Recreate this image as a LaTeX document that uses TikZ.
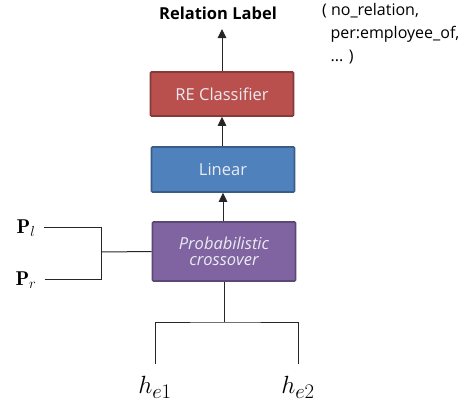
\documentclass[tikz,border=0pt]{standalone}
\usepackage{amsmath,amssymb}
\usepackage{fontspec}
\setsansfont{Open Sans}
\usetikzlibrary{arrows.meta}
\definecolor{reclass}{RGB}{185, 80, 78}
\definecolor{linear}{RGB}{79, 129, 189}
\definecolor{cross}{RGB}{128, 100, 162}
\definecolor{textobox}{RGB}{235, 235, 240}

\begin{document}
\begin{tikzpicture}[x=1pt, y=-1pt,
					% caixas coloridas
					bloco/.style={draw=#1!72!black, fill=#1, line width=1.6pt,
						rounded corners=1pt, minimum width=143pt,
						text=textobox, font=\sffamily\fontsize{16.5}{18}\selectfont},
					liga/.style={line width=1pt, black!85},
					seta/.style={liga, -{Triangle[length=9pt, width=8.5pt]}},
					entrada/.style={inner sep=2pt, font=\fontsize{20}{22}\selectfont},
					saida/.style={anchor=north, inner sep=12pt, font=\fontsize{28}{30}\selectfont},
					]
\useasboundingbox (0,0) rectangle (476,416);
% blocos
\node[bloco=reclass, minimum height=44pt] (re) at (222,94) {RE Classifier};
\node[bloco=linear, minimum height=45pt] (lin) at (223,169.5) {Linear};
\node[bloco=cross, minimum height=59pt, align=center] (cross) at (224,251.5)
	{\itshape Probabilistic\\[-2pt] \itshape crossover};
% rotulos
\node[font=\sffamily\bfseries\fontsize{16.5}{18}\selectfont] (rel) at (218,13) {Relation Label};
\node[anchor=north west, align=left, inner sep=0pt,
	font=\sffamily\fontsize{16}{23}\selectfont] (classes) at (322,3)
	{( no\_relation,\\ \ \ per:employee\_of,\\ \ \ ... )};
\node[entrada] (pl) at (26,228) {$\mathbf{P}_l$};
\node[entrada] (pr) at (26,280) {$\mathbf{P}_r$};
\node[saida] (he1) at (155,364) {$h_{e1}$};
\node[saida] (he2) at (298,364) {$h_{e2}$};
% juncoes
\coordinate (jp) at (101,252);
\coordinate (jh) at (224,322);
\coordinate (topo) at (222,29);
% ligacoes
\draw[seta] (re.north) -- (topo);
\draw[seta] (lin.north -| re.south) -- (re.south);
\draw[seta] (cross.north -| lin.south) -- (lin.south);
\draw[liga] (pl.east) ++(6,-1) -| (jp);
\draw[liga] (pr.east) ++(6,-1) -| (jp);
\draw[liga] (jp) -- (cross.west);
\draw[liga] (cross.south) -- (jh);
\draw[liga] (he1.north) |- (jh) -| (he2.north);
\end{tikzpicture}
\end{document}
